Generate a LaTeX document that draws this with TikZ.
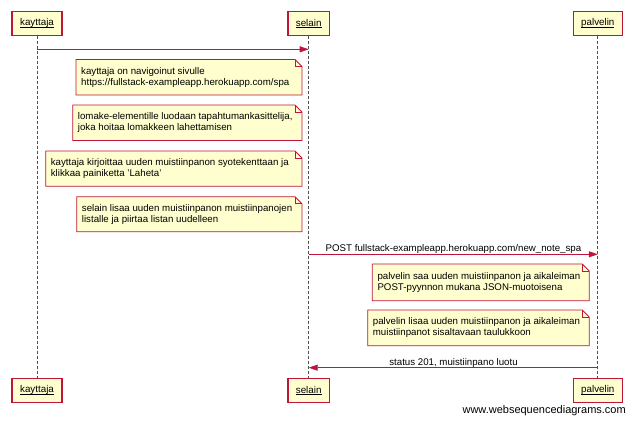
\documentclass[tikz,border=0pt]{standalone}
\usepackage{fontspec}
\setmainfont{Liberation Sans}
\usetikzlibrary{arrows.meta}
\definecolor{wsdred}{HTML}{C0143C}
\definecolor{wsdfill}{HTML}{FEFECE}
\definecolor{lifegray}{HTML}{505050}
\newlength\wsdulw
\newcommand{\wsdul}[1]{\settowidth\wsdulw{#1}\rlap{\rule[-1.3pt]{\wsdulw}{0.6pt}}#1}
\tikzset{
  actor/.style={draw=wsdred, fill=wsdfill, line width=1.1pt, inner sep=0pt,
    minimum height=23.5pt, font=\fontsize{9.8}{11}\selectfont},
  lifeline/.style={draw=lifegray, line width=0.8pt, dash pattern=on 3pt off 2pt},
  msg/.style={draw=wsdred, line width=0.8pt, -{Triangle[length=9pt,width=6pt]}},
  notetext/.style={anchor=west, inner sep=0pt, align=left, font=\fontsize{9.7}{11}\selectfont},
  notebox/.style={draw=wsdred, fill=wsdfill, line width=0.8pt},
  msglabel/.style={anchor=base, inner sep=0pt, font=\fontsize{9.7}{11}\selectfont}
}
\newcommand{\wsdnote}[5]{%
  \filldraw[notebox] (#1,#2) -- ({#3-7},#2) -- (#3,{#2+7}) -- (#3,#4) -- (#1,#4) -- cycle;
  \draw[notebox, fill=none] ({#3-7},#2) -- ({#3-7},{#2+7}) -- (#3,{#2+7});
  \node[notetext] (#5) at ({#1+5},{(#2+#4)/2}) {\csname nt#5\endcsname};
}
\newcommand{\ntnA}{kayttaja on navigoinut sivulle\\https://fullstack-exampleapp.herokuapp.com/spa}
\newcommand{\ntnB}{lomake-elementille luodaan tapahtumankasittelija,\\joka hoitaa lomakkeen lahettamisen}
\newcommand{\ntnC}{kayttaja kirjoittaa uuden muistiinpanon syotekenttaan ja\\klikkaa painiketta 'Laheta'}
\newcommand{\ntnD}{selain lisaa uuden muistiinpanon muistiinpanojen\\listalle ja piirtaa listan uudelleen}
\newcommand{\ntnE}{palvelin saa uuden muistiinpanon ja aikaleiman\\POST-pyynnon mukana JSON-muotoisena}
\newcommand{\ntnF}{palvelin lisaa uuden muistiinpanon ja aikaleiman\\muistiinpanot sisaltavaan taulukkoon}
\begin{document}
\begin{tikzpicture}[x=1pt,y=-1pt]
\useasboundingbox (0,0) rectangle (633,421);
% participants
\node[actor, minimum width=50pt] (kt) at (37,23.3) {\wsdul{kayttaja}};
\node[actor, minimum width=41.5pt] (st) at (308.7,23.3) {\wsdul{selain}};
\node[actor, minimum width=49pt] (pt) at (597.8,23.3) {\wsdul{palvelin}};
\node[actor, minimum width=50pt] (kb) at (37,390.3) {\wsdul{kayttaja}};
\node[actor, minimum width=41.5pt] (sb) at (308.7,390.3) {\wsdul{selain}};
\node[actor, minimum width=49pt] (pb) at (597.8,390.3) {\wsdul{palvelin}};
% lifelines
\draw[lifeline] (kt.south) -- (kb.north);
\draw[lifeline] (st.south) -- (sb.north);
\draw[lifeline] (pt.south) -- (pb.north);
% message 1
\coordinate (m1a) at (37,49.3);
\coordinate (m1b) at (308.7,49.3);
\draw[msg] (m1a) -- (m1b);
% notes
\wsdnote{76}{59.5}{302}{95}{nA}
\wsdnote{72.7}{105}{302}{140.5}{nB}
\wsdnote{45.7}{151}{302}{186.3}{nC}
\wsdnote{76.7}{196.7}{302}{231.7}{nD}
% POST
\coordinate (m2a) at (308.7,254.3);
\coordinate (m2b) at (597.8,254.3);
\draw[msg] (m2a) -- (m2b);
\node[msglabel] (l2) at (453.5,251.2) {POST fullstack-exampleapp.herokuapp.com/new\_note\_spa};
\wsdnote{372.3}{264}{589.3}{300.7}{nE}
\wsdnote{367.7}{310}{589.3}{345.7}{nF}
% response
\coordinate (m3a) at (597.8,367.7);
\coordinate (m3b) at (308.7,367.7);
\draw[msg] (m3a) -- (m3b);
\node[msglabel] (l3) at (453.5,365.2) {status 201, muistiinpano luotu};
% watermark
\node[anchor=base east, inner sep=0pt, font=\fontsize{11}{12}\selectfont] (wm) at (626,413.5) {www.websequencediagrams.com};
\end{tikzpicture}
\end{document}
